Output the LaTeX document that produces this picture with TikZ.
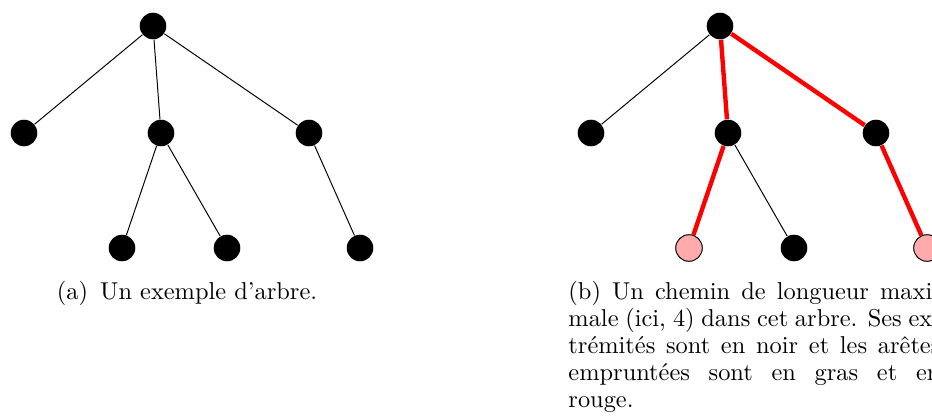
\documentclass[tikz,border=0pt]{standalone}
\usepackage{xcolor}

\begin{document}
\begin{tikzpicture}[x=0.41pt,y=-0.41pt,
    noeud/.style={circle,fill=black,inner sep=0pt,minimum size=10.9pt},
    bout/.style={circle,draw=black,fill=red!33,inner sep=0pt,minimum size=10.9pt},
    chemin/.style={red,line width=1.8pt},
    legende/.style={font=\fontsize{10}{11.07}\selectfont,inner sep=0pt}]
    \useasboundingbox (0,0) rectangle (932,419);
    % arbre (a)
    \node [noeud] (r) at (153,26) {};
    \node [noeud] (a) at (24,133) {};
    \node [noeud] (b) at (161,133) {};
    \node [noeud] (c) at (309,133) {};
    \node [noeud] (d) at (122,248) {};
    \node [noeud] (e) at (227,248) {};
    \node [noeud] (f) at (360,248) {};
    \foreach \u/\v in {r/a,r/b,r/c,b/d,b/e,c/f}
    \draw (\u) -- (\v);
    % arbre (b), chemin en rouge
    \node [noeud] (R) at (720,26) {};
    \node [noeud] (A) at (591,133) {};
    \node [noeud] (B) at (728,133) {};
    \node [noeud] (C) at (876,133) {};
    \node [bout] (D) at (689,248) {};
    \node [noeud] (E) at (794,248) {};
    \node [bout] (F) at (927,248) {};
    \foreach \u/\v in {R/A,B/E}
    \draw (\u) -- (\v);
    \foreach \u/\v in {R/B,R/C,B/D,C/F}
    \draw [chemin] (\u) -- (\v);
    % legendes
    \node [legende,anchor=base] (capa) at (187,299) {(a)\hskip 0.5em Un exemple d’arbre.};
    \node [legende,anchor=north west,text width=152.5pt,align=justify] (capb) at (568,281)
    {(b) Un chemin de longueur maxi-\linebreak male (ici, 4) dans cet arbre. Ses ex-\linebreak
    trémités sont en noir et les arêtes\linebreak empruntées sont en gras et en\linebreak rouge.};
\end{tikzpicture}
\end{document}
